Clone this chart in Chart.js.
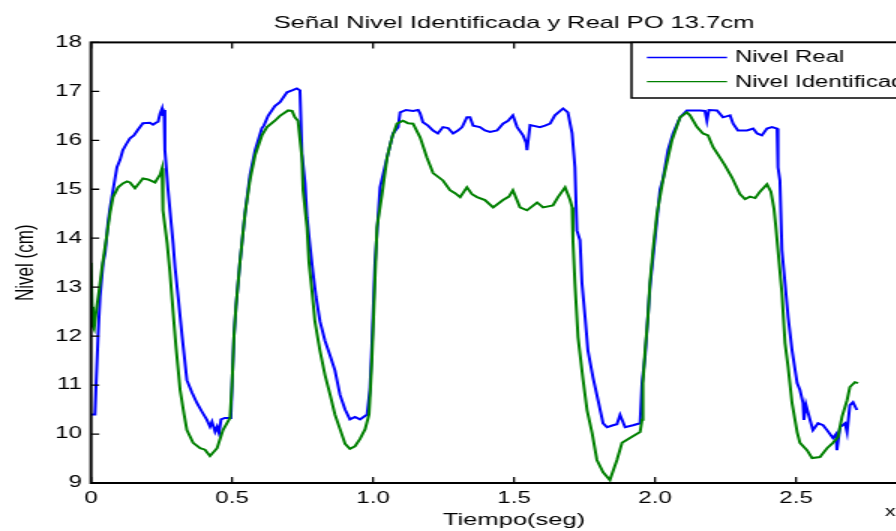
<!DOCTYPE html>
<html>
<head>
<meta charset="utf-8">
<script src="https://cdn.jsdelivr.net/npm/chart.js@4"></script>
<style>
html, body { margin: 0; padding: 0; overflow: hidden; background: #fff; }
/* la figura original viene estirada en horizontal */
#wrap { transform: scaleX(1.5); transform-origin: 0 0; width: 686px; height: 531px; }
</style>
</head>
<body>
<div id="wrap"><canvas id="grafico" width="686" height="531"></canvas></div>
<script>
/* ============================================================
   Señal Nivel Identificada y Real PO 13.7cm
============================================================ */

const FUENTE = "'Liberation Sans', Arial, sans-serif";

const xTicks = [0, 0.5, 1, 1.5, 2, 2.5, 3];
const yTicks = [9, 10, 11, 12, 13, 14, 15, 16, 17, 18];

/* Nivel Real (azul) */
const tReal = [
    0, 0.014, 0.018, 0.025, 0.032, 0.043, 0.05, 0.06, 0.067, 0.078, 0.092, 0.103, 0.113, 0.128, 0.138,
    0.152, 0.167, 0.184, 0.209, 0.22, 0.23, 0.238, 0.245, 0.252, 0.255, 0.259, 0.262, 0.273, 0.28, 0.291,
    0.298, 0.309, 0.323, 0.34, 0.358, 0.376, 0.394, 0.411, 0.422, 0.429, 0.44, 0.447, 0.454, 0.461, 0.475,
    0.496, 0.5, 0.507, 0.514, 0.528, 0.546, 0.564, 0.582, 0.606, 0.613, 0.628, 0.652, 0.67, 0.695, 0.713,
    0.73, 0.741, 0.748, 0.759, 0.766, 0.777, 0.787, 0.798, 0.812, 0.83, 0.848, 0.865, 0.883, 0.901, 0.918,
    0.936, 0.954, 0.979, 0.989, 0.996, 1.007, 1.025, 1.05, 1.071, 1.089, 1.096, 1.117, 1.142, 1.16, 1.167,
    1.177, 1.195, 1.213, 1.23, 1.248, 1.266, 1.284, 1.301, 1.316, 1.333, 1.344, 1.355, 1.379, 1.397, 1.415,
    1.44, 1.461, 1.479, 1.496, 1.511, 1.532, 1.543, 1.546, 1.557, 1.592, 1.61, 1.628, 1.645, 1.674, 1.691,
    1.706, 1.716, 1.723, 1.734, 1.741, 1.752, 1.762, 1.78, 1.798, 1.816, 1.83, 1.851, 1.865, 1.876, 1.894,
    1.922, 1.947, 1.954, 1.965, 1.982, 2.0, 2.018, 2.028, 2.046, 2.064, 2.089, 2.113, 2.16, 2.177, 2.184,
    2.191, 2.22, 2.241, 2.266, 2.277, 2.294, 2.326, 2.348, 2.362, 2.379, 2.397, 2.415, 2.433, 2.436, 2.443,
    2.45, 2.461, 2.472, 2.486, 2.504, 2.514, 2.525, 2.528, 2.535, 2.543, 2.56, 2.578, 2.596, 2.61, 2.631,
    2.642, 2.645, 2.656, 2.674, 2.681, 2.691, 2.702, 2.716
];
const nivelReal = [
    10.4, 10.4, 11.0, 12.0, 12.8, 13.5, 13.7, 14.3, 14.6, 14.98, 15.45, 15.6, 15.8, 15.95, 16.04,
    16.1, 16.22, 16.35, 16.36, 16.32, 16.36, 16.38, 16.55, 16.65, 16.5, 16.62, 15.8, 15.0, 14.57, 13.9,
    13.4, 12.8, 12.0, 11.1, 10.85, 10.63, 10.45, 10.29, 10.15, 10.25, 10.05, 10.15, 10.02, 10.3, 10.33,
    10.33, 11.0, 12.0, 12.6, 13.5, 14.5, 15.3, 15.8, 16.25, 16.3, 16.5, 16.7, 16.78, 16.98, 17.02,
    17.06, 17.02, 15.73, 15.12, 14.43, 13.82, 13.3, 12.8, 12.3, 11.9, 11.6, 11.3, 10.8, 10.5, 10.3,
    10.35, 10.3, 10.4, 10.9, 11.8, 13.5, 15.04, 15.65, 16.14, 16.27, 16.57, 16.62, 16.6, 16.62, 16.55,
    16.37, 16.3, 16.2, 16.14, 16.27, 16.25, 16.14, 16.2, 16.27, 16.47, 16.47, 16.3, 16.27, 16.2, 16.17,
    16.2, 16.34, 16.4, 16.51, 16.27, 16.1, 15.95, 15.8, 16.31, 16.27, 16.3, 16.34, 16.51, 16.65, 16.57,
    16.14, 15.45, 14.16, 13.96, 13.08, 12.39, 11.71, 11.16, 10.69, 10.22, 10.14, 10.18, 10.2, 10.39, 10.14,
    10.18, 10.22, 11.04, 11.6, 13.0, 14.0, 15.0, 15.2, 15.8, 16.14, 16.47, 16.61, 16.61, 16.6, 16.4,
    16.62, 16.61, 16.47, 16.51, 16.34, 16.2, 16.2, 16.24, 16.14, 16.1, 16.24, 16.27, 16.24, 15.45, 15.18,
    13.76, 13.08, 12.39, 11.71, 11.04, 10.9, 10.63, 10.29, 10.6, 10.43, 10.08, 10.22, 10.18, 10.08, 9.92,
    10.0, 9.67, 10.14, 10.22, 10.04, 10.59, 10.65, 10.49
];

/* Nivel Identificada (verde) */
const tIdent = [
    0, 0.004, 0.007, 0.011, 0.018, 0.028, 0.039, 0.057, 0.067, 0.078, 0.096, 0.113, 0.128, 0.138, 0.156,
    0.17, 0.184, 0.202, 0.227, 0.238, 0.245, 0.252, 0.255, 0.27, 0.28, 0.291, 0.301, 0.316, 0.33, 0.34,
    0.362, 0.387, 0.404, 0.422, 0.447, 0.468, 0.493, 0.5, 0.507, 0.514, 0.528, 0.546, 0.564, 0.582, 0.606,
    0.624, 0.652, 0.67, 0.699, 0.713, 0.723, 0.734, 0.748, 0.752, 0.766, 0.773, 0.784, 0.794, 0.812, 0.83,
    0.848, 0.865, 0.883, 0.901, 0.918, 0.936, 0.954, 0.972, 0.986, 0.996, 1.014, 1.032, 1.05, 1.067, 1.085,
    1.106, 1.124, 1.142, 1.167, 1.191, 1.213, 1.248, 1.273, 1.291, 1.309, 1.333, 1.351, 1.369, 1.397, 1.426,
    1.461, 1.482, 1.496, 1.521, 1.546, 1.582, 1.603, 1.638, 1.656, 1.681, 1.699, 1.706, 1.709, 1.716, 1.727,
    1.745, 1.759, 1.777, 1.794, 1.816, 1.84, 1.865, 1.883, 1.911, 1.947, 1.954, 1.957, 1.965, 1.975, 1.982,
    1.993, 2.007, 2.028, 2.06, 2.089, 2.113, 2.124, 2.149, 2.17, 2.188, 2.206, 2.23, 2.248, 2.273, 2.301,
    2.319, 2.337, 2.355, 2.372, 2.397, 2.411, 2.422, 2.429, 2.436, 2.45, 2.461, 2.472, 2.486, 2.504, 2.514,
    2.539, 2.557, 2.585, 2.61, 2.631, 2.649, 2.663, 2.681, 2.691, 2.709, 2.72
];
const nivelIdent = [
    13.5, 12.6, 12.2, 12.15, 12.5, 12.9, 13.4, 14.1, 14.5, 14.84, 15.04, 15.12, 15.16, 15.14, 15.02,
    15.12, 15.22, 15.2, 15.14, 15.24, 15.3, 15.43, 14.57, 13.9, 13.3, 12.5, 11.8, 10.9, 10.4, 10.08,
    9.82, 9.71, 9.68, 9.55, 9.71, 10.08, 10.33, 11.0, 12.0, 12.6, 13.5, 14.5, 15.2, 15.7, 16.1,
    16.27, 16.4, 16.5, 16.61, 16.6, 16.47, 16.4, 15.65, 14.98, 14.22, 13.5, 12.9, 12.3, 11.7, 11.2,
    10.8, 10.4, 10.1, 9.8, 9.7, 9.75, 9.9, 10.1, 10.4, 11.5, 14.22, 14.9, 15.65, 16.05, 16.34,
    16.4, 16.35, 16.34, 16.06, 15.65, 15.33, 15.18, 14.98, 14.92, 14.84, 15.04, 14.9, 14.84, 14.78, 14.63,
    14.78, 14.85, 14.98, 14.63, 14.57, 14.73, 14.63, 14.67, 14.84, 15.04, 14.78, 14.63, 13.96, 13.08, 11.98,
    11.1, 10.49, 10.02, 9.47, 9.22, 9.06, 9.47, 9.82, 9.92, 10.04, 10.29, 11.04, 11.71, 12.39, 13.08,
    13.76, 14.5, 15.18, 16.0, 16.47, 16.57, 16.51, 16.27, 16.14, 16.1, 15.86, 15.65, 15.49, 15.24, 14.9,
    14.8, 14.85, 14.82, 14.95, 15.1, 14.95, 14.6, 14.2, 13.76, 12.88, 11.86, 11.37, 10.63, 10.04, 9.82,
    9.67, 9.51, 9.53, 9.71, 9.82, 9.94, 10.35, 10.69, 10.96, 11.06, 11.04
];

function pares(ts, vs) {
    return ts.map((t, i) => ({ x: t, y: vs[i] }));
}

/* marco, ticks hacia adentro y leyenda estilo MATLAB */
const marcoPlugin = {
    id: "marco",
    afterDraw(chart) {
        const { ctx, chartArea: a, scales } = chart;
        const x = scales.x, y = scales.y;
        ctx.save();

        ctx.strokeStyle = "#000";
        ctx.lineWidth = 2;
        ctx.strokeRect(a.left, a.top, a.right - a.left, a.bottom - a.top);

        ctx.lineWidth = 1.3;
        ctx.beginPath();
        for (const v of xTicks) {
            const px = x.getPixelForValue(v);
            ctx.moveTo(px, a.bottom); ctx.lineTo(px, a.bottom - 6);
            ctx.moveTo(px, a.top); ctx.lineTo(px, a.top + 6);
        }
        for (const v of yTicks) {
            const py = y.getPixelForValue(v);
            ctx.moveTo(a.left, py); ctx.lineTo(a.left + 5.5, py);
            ctx.moveTo(a.right, py); ctx.lineTo(a.right - 5.5, py);
        }
        ctx.stroke();

        // leyenda
        const L = { left: 421, top: 42.5, right: 620, bottom: 98 };
        ctx.fillStyle = "#fff";
        ctx.fillRect(L.left, L.top, L.right - L.left, L.bottom - L.top);
        ctx.lineWidth = 1.5;
        ctx.strokeRect(L.left, L.top, L.right - L.left, L.bottom - L.top);

        ctx.font = "16px " + FUENTE;
        ctx.textBaseline = "middle";
        ctx.textAlign = "left";
        const filas = [57.5, 81.7];
        chart.data.datasets.forEach((ds, i) => {
            const yy = filas[i];
            ctx.strokeStyle = ds.borderColor;
            ctx.lineWidth = 1.3;
            ctx.beginPath();
            ctx.moveTo(431.3, yy);
            ctx.lineTo(484.7, yy);
            ctx.stroke();
            ctx.fillStyle = "#000";
            ctx.fillText(ds.label, 490, yy + 0.5);
        });

        // resto del multiplicador del eje x (cortado en la imagen)
        ctx.font = "14px " + FUENTE;
        ctx.fillText("x", 590, 512);

        ctx.restore();
    }
};

new Chart(document.getElementById("grafico"), {
    type: "line",
    data: {
        datasets: [
            {
                label: "Nivel Real",
                data: pares(tReal, nivelReal),
                borderColor: "#0000ff",
                borderWidth: 2,
                pointRadius: 0,
                tension: 0,
                order: 1
            },
            {
                label: "Nivel Identificada",
                data: pares(tIdent, nivelIdent),
                borderColor: "#008000",
                borderWidth: 2,
                pointRadius: 0,
                tension: 0,
                order: 0
            }
        ]
    },
    options: {
        responsive: false,
        animation: false,
        layout: { padding: { left: 0, right: 61.33, top: 0, bottom: 0 } },
        plugins: {
            legend: { display: false },
            tooltip: { enabled: false },
            title: {
                display: true,
                text: "Señal Nivel Identificada y Real PO 13.7cm",
                color: "#000",
                fullSize: false,
                font: { family: FUENTE, size: 17, weight: "normal" },
                padding: { top: 13, bottom: 9 }
            }
        },
        scales: {
            x: {
                type: "linear",
                min: 0,
                max: 3,
                afterBuildTicks: (s) => { s.ticks = xTicks.map(v => ({ value: v })); },
                afterFit: (s) => { s.height = 48; },
                grid: { display: false, drawTicks: false },
                border: { display: false },
                ticks: { color: "#000", padding: 6, maxRotation: 0, font: { family: FUENTE, size: 16 } },
                title: {
                    display: true,
                    text: "Tiempo(seg)",
                    color: "#000",
                    font: { family: FUENTE, size: 17 },
                    padding: { top: 0, bottom: 0 }
                }
            },
            y: {
                min: 9,
                max: 18,
                afterBuildTicks: (s) => { s.ticks = yTicks.map(v => ({ value: v })); },
                afterFit: (s) => { s.width = 60.67; },
                grid: { display: false, drawTicks: false },
                border: { display: false },
                ticks: { color: "#000", padding: 6, font: { family: FUENTE, size: 16 } },
                title: {
                    display: true,
                    text: "Nivel (cm)",
                    color: "#000",
                    font: { family: FUENTE, size: 17 },
                    padding: { top: 7, bottom: 0 }
                }
            }
        }
    },
    plugins: [marcoPlugin]
});
</script>
</body>
</html>
